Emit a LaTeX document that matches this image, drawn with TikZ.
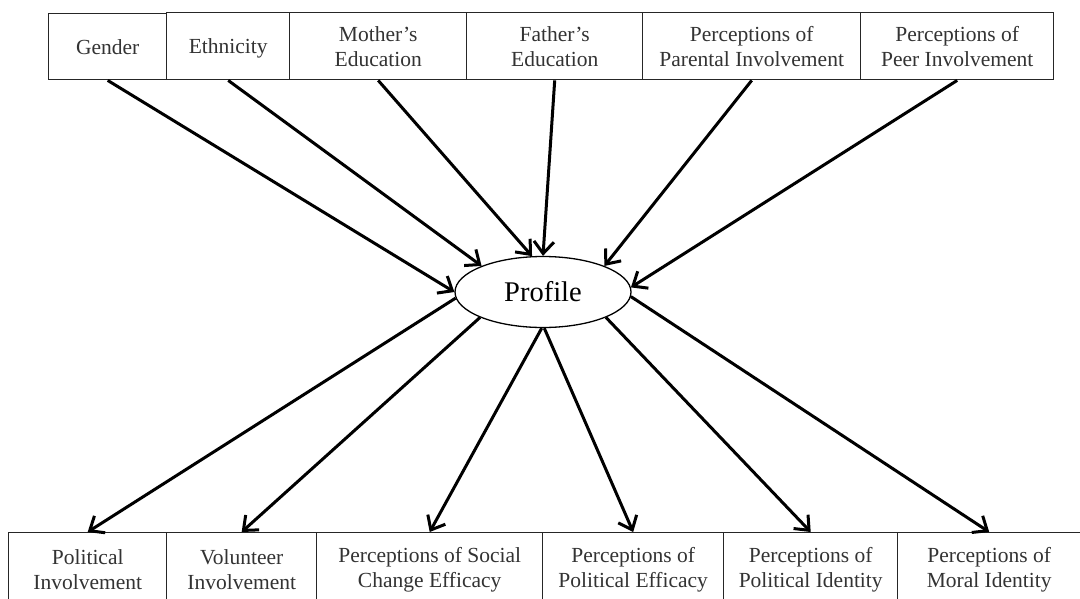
\documentclass[tikz,border=0pt]{standalone}
\usepackage{fontspec}
\setmainfont{Liberation Serif}
\usetikzlibrary{arrows.meta,shapes,positioning}

\tikzset{
  varbox/.style={rectangle, draw=black!85, line width=1.4pt, fill=white,
    align=center, inner sep=2pt, text=black!80,
    font=\fontsize{21.5}{25}\selectfont, anchor=north west},
  topbox/.style={varbox, minimum height=67pt, text depth=0pt},
  botbox/.style={varbox, minimum height=74pt},
  profilenode/.style={ellipse, draw=black, line width=1.3pt,
    minimum width=176pt, minimum height=71pt, inner sep=0pt,
    font=\fontsize{28.5}{32}\selectfont},
  path/.style={line width=3pt,
    -{Straight Barb[length=12pt,width=20pt,line width=3pt]}}
}

\begin{document}
\begin{tikzpicture}[x=1pt,y=-1pt]
\useasboundingbox (0,0) rectangle (1080,598);

% predictors
\node[topbox, minimum width=118pt, minimum height=66pt] at (48,13) (gender) {Gender};
\node[topbox, minimum width=123pt] at (166,12) (ethnicity) {Ethnicity};
\node[topbox, minimum width=177pt] at (289,12) (mother) {Mother’s\\Education};
\node[topbox, minimum width=176pt] at (466,12) (father) {Father’s\\Education};
\node[topbox, minimum width=218pt] at (642,12) (parent) {Perceptions of\\Parental Involvement};
\node[topbox, minimum width=193pt] at (860,12) (peer) {Perceptions of\\Peer Involvement};

\node[profilenode] at (543,292) (profile) {Profile};

% outcomes
\node[botbox, minimum width=158pt] at (8,532) (polinv) {Political\\Involvement};
\node[botbox, minimum width=150pt] at (166,532) (volinv) {Volunteer\\Involvement};
\node[botbox, minimum width=226pt] at (316,532) (social) {Perceptions of Social\\Change Efficacy};
\node[botbox, minimum width=181pt] at (542,532) (poleff) {Perceptions of\\Political Efficacy};
\node[botbox, minimum width=174pt] at (723,532) (polid) {Perceptions of\\Political Identity};
\node[botbox, minimum width=183pt] at (897,532) (moral) {Perceptions of\\Moral Identity};

\draw[path] (gender.south) -- (profile.180);
\draw[path] (ethnicity.south) -- (profile.157);
\draw[path] (mother.south) -- (profile.107);
\draw[path] (father.south) -- (profile.north);
\draw[path] (parent.south) -- (profile.23);
\draw[path] (peer.south) -- (profile.3);

\draw[path] (profile.184) -- (polinv.north);
\draw[path] (profile.202) -- (volinv.north);
\draw[path] (profile.268) -- (social.north);
\draw[path] (profile.272) -- (poleff.north);
\draw[path] (profile.338) -- (polid.north);
\draw[path] (profile.357) -- (moral.north);

\end{tikzpicture}
\end{document}
